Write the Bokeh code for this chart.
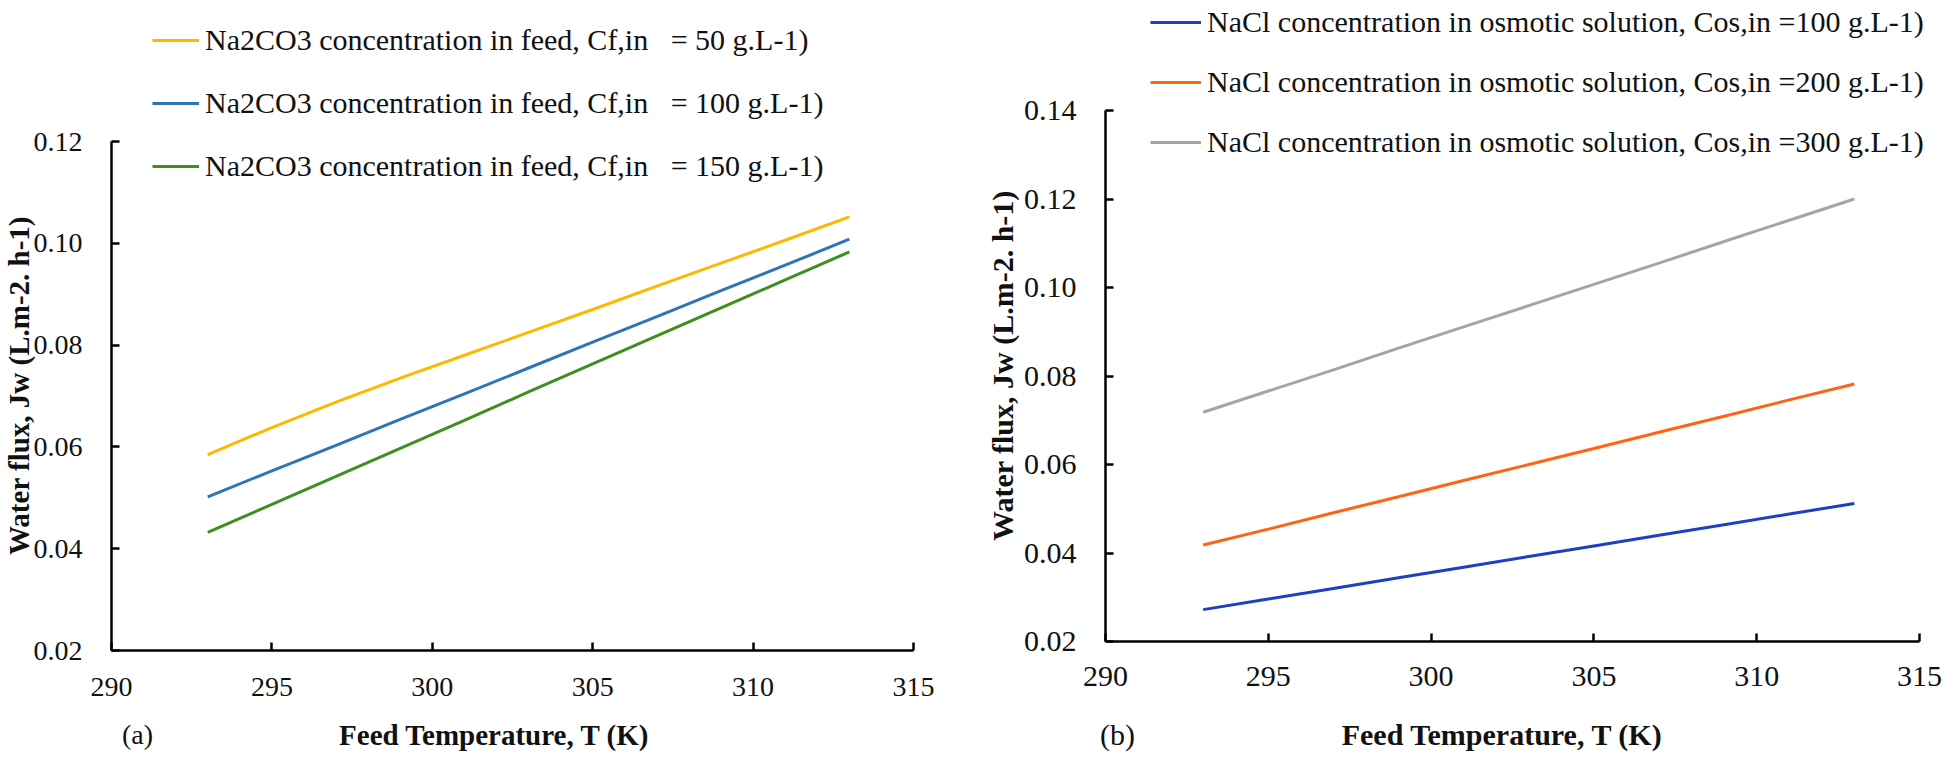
import math
from bokeh.plotting import figure
from bokeh.models import Legend, LegendItem, Label, FixedTicker, PrintfTickFormatter, Range1d
from bokeh.layouts import row
from bokeh.embed import file_html
from bokeh.resources import INLINE

# ---------------- data ----------------
temps = [293, 295, 297, 299, 301, 303, 305, 307, 309, 311, 313]

# panel (a): Na2CO3 concentration in feed
flux_a_50 = [0.0585, 0.0638, 0.0688, 0.0735, 0.0780, 0.0825, 0.0870, 0.0916, 0.0961, 0.1006, 0.1052]
flux_a_100 = [0.0502, 0.0553, 0.0603, 0.0654, 0.0704, 0.0755, 0.0806, 0.0856, 0.0907, 0.0957, 0.1008]
flux_a_150 = [0.0432, 0.0487, 0.0542, 0.0597, 0.0652, 0.0708, 0.0763, 0.0818, 0.0873, 0.0928, 0.0983]
labels_a = [
    "Na2CO3 concentration in feed, Cf,in\u00a0\u00a0\u00a0= 50 g.L-1)",
    "Na2CO3 concentration in feed, Cf,in\u00a0\u00a0\u00a0= 100 g.L-1)",
    "Na2CO3 concentration in feed, Cf,in\u00a0\u00a0\u00a0= 150 g.L-1)",
]
colors_a = ["#FFB800", "#2E75B6", "#3F8F1F"]

# panel (b): NaCl concentration in osmotic solution
flux_b_100 = [0.0272, 0.0296, 0.0320, 0.0344, 0.0368, 0.0392, 0.0416, 0.0440, 0.0464, 0.0488, 0.0512]
flux_b_200 = [0.0418, 0.0454, 0.0491, 0.0527, 0.0564, 0.0600, 0.0636, 0.0673, 0.0709, 0.0746, 0.0782]
flux_b_300 = [0.0718, 0.0766, 0.0814, 0.0863, 0.0911, 0.0959, 0.1007, 0.1055, 0.1104, 0.1152, 0.1200]
labels_b = [
    "NaCl concentration in osmotic solution, Cos,in =100 g.L-1)",
    "NaCl concentration in osmotic solution, Cos,in =200 g.L-1)",
    "NaCl concentration in osmotic solution, Cos,in =300 g.L-1)",
]
colors_b = ["#1E40C0", "#FF6414", "#A5A5A5"]

x_ticks = [290, 295, 300, 305, 310, 315]
y_ticks_a = [0.02, 0.04, 0.06, 0.08, 0.10, 0.12]
y_ticks_b = [0.02, 0.04, 0.06, 0.08, 0.10, 0.12, 0.14]

x_title = "Feed Temperature, T (K)"
y_title = "Water flux, Jw (L.m-2. h-1)"

FONT = "Liberation Serif"
H = 754


def make_panel(width, series, labels, colors, y_ticks, org, x_end_px, ytop_px,
               tick_size, legend_size, title_size, x_std, legend_xy, glyph_w,
               item_h, spacing, ytitle_px, xtitle_px, tag, tag_px):
    # org: pixel position (in this figure) of the axes' origin (first x tick, first y tick)
    x0, x1 = x_ticks[0], x_ticks[-1]
    y0, y1 = y_ticks[0], y_ticks[-1]
    ppx = (x_end_px - org[0]) / (x1 - x0)
    ppy = (org[1] - ytop_px) / (y1 - y0)

    # the frame covers the whole canvas; axes are pinned at the origin
    xr = Range1d(x0 - org[0] / ppx, x0 + (width - org[0]) / ppx)
    yr = Range1d(y0 - (H - org[1]) / ppy, y0 + org[1] / ppy)

    p = figure(width=width, height=H, output_backend="svg", toolbar_location=None,
               x_range=xr, y_range=yr,
               min_border_left=0, min_border_right=0,
               min_border_top=0, min_border_bottom=0)
    p.xgrid.visible = False
    p.ygrid.visible = False
    p.outline_line_color = None
    p.background_fill_color = "white"
    p.border_fill_color = "white"

    p.xaxis[0].fixed_location = y0
    p.yaxis[0].fixed_location = x0
    for ax, ticks, std in ((p.xaxis[0], x_ticks, x_std), (p.yaxis[0], y_ticks, 29)):
        ax.ticker = FixedTicker(ticks=ticks)
        ax.bounds = (ticks[0], ticks[-1])
        ax.axis_line_width = 2.5
        ax.axis_line_color = "black"
        ax.major_tick_line_width = 2.5
        ax.major_tick_line_color = "black"
        ax.major_tick_in = 8
        ax.major_tick_out = 0
        ax.minor_tick_line_color = None
        ax.major_label_text_font = FONT
        ax.major_label_text_font_size = f"{tick_size}px"
        ax.major_label_text_color = "#111111"
        ax.major_label_standoff = std
    p.yaxis[0].formatter = PrintfTickFormatter(format="%.2f")

    items = []
    for ys, lab, col in zip(series, labels, colors):
        r = p.line(temps, ys, line_color=col, line_width=3)
        items.append(LegendItem(label=lab, renderers=[r]))

    leg = Legend(items=items, location=legend_xy, padding=0, margin=0,
                 border_line_color=None, background_fill_alpha=0,
                 glyph_width=glyph_w, glyph_height=item_h, label_height=item_h,
                 label_standoff=6, spacing=spacing,
                 label_text_font=FONT, label_text_font_size=f"{legend_size}px",
                 label_text_color="#111111")
    p.add_layout(leg)

    def to_data(px, py):
        return x0 + (px - org[0]) / ppx, y0 + (org[1] - py) / ppy

    tx, ty = to_data(*ytitle_px)
    p.add_layout(Label(x=tx, y=ty, text=y_title, angle=math.pi / 2,
                       text_align="center", text_baseline="middle",
                       text_font=FONT, text_font_style="bold",
                       text_font_size=f"{title_size}px", text_color="#111111"))
    tx, ty = to_data(*xtitle_px)
    p.add_layout(Label(x=tx, y=ty, text=x_title,
                       text_align="center", text_baseline="middle",
                       text_font=FONT, text_font_style="bold",
                       text_font_size=f"{title_size}px", text_color="#111111"))
    tx, ty = to_data(*tag_px)
    p.add_layout(Label(x=tx, y=ty, text=tag,
                       text_align="center", text_baseline="middle",
                       text_font=FONT, text_font_size=f"{tick_size}px",
                       text_color="#111111"))
    return p


pa = make_panel(971, [flux_a_50, flux_a_100, flux_a_150], labels_a, colors_a, y_ticks_a,
                org=(111, 650), x_end_px=913, ytop_px=141,
                tick_size=28, legend_size=30, title_size=29, x_std=27,
                legend_xy=(152, 570), glyph_w=47, item_h=36, spacing=27,
                ytitle_px=(18, 385), xtitle_px=(494, 734), tag="(a)", tag_px=(137, 734))

pb = make_panel(971, [flux_b_100, flux_b_200, flux_b_300], labels_b, colors_b, y_ticks_b,
                org=(134, 641), x_end_px=948, ytop_px=110,
                tick_size=30, legend_size=30, title_size=30, x_std=25,
                legend_xy=(179, 595), glyph_w=51, item_h=34, spacing=26,
                ytitle_px=(31, 365), xtitle_px=(531, 734), tag="(b)", tag_px=(146, 734))

layout = row(pa, pb)
open("out.html", "w").write(file_html(layout, INLINE))
